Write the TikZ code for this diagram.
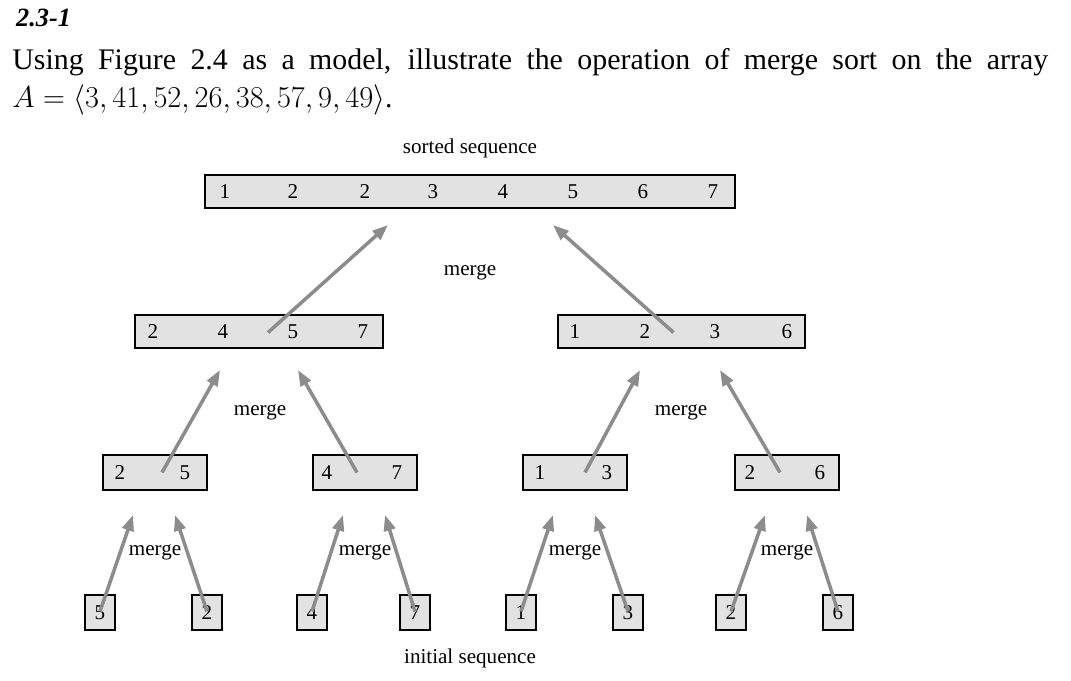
\documentclass[tikz,border=0pt]{standalone}
\usepackage{fontspec}
\setmainfont{Liberation Serif}
\usetikzlibrary{arrows.meta}
\definecolor{boxgray}{RGB}{226,226,226}
\definecolor{arrowgray}{RGB}{140,140,140}

\begin{document}
\begin{tikzpicture}[x=0.02cm,y=-0.02cm]
\tikzset{seq/.style = {draw, fill=boxgray, line width=.6pt, inner sep=0pt}}
\tikzset{num/.style = {font=\fontsize{12}{14}\selectfont}}
\tikzset{lbl/.style = {font=\fontsize{12}{14}\selectfont}}
\tikzset{edge/.style = {-{Triangle[length=9pt,width=8pt,angle'=40]}, draw=arrowgray, line width=2pt}}

   \useasboundingbox (0,0) rectangle (1071,680);

   % header
   \node[anchor=west, font=\fontsize{15}{18}\selectfont\bfseries\itshape] (title) at (10,18) {2.3-1};
   \node[anchor=west, inner sep=0pt, font=\fontsize{17}{20}\selectfont] (line1) at (12,62)
      {\makebox[20.72cm][s]{Using Figure 2.4 as a model, illustrate the operation of merge sort on the array}};
   \node[anchor=west, inner sep=0pt, font=\fontsize{17}{20}\selectfont] (line2) at (12,100)
      {$A=\langle 3,41,52,26,38,57,9,49\rangle$.};

   % boxes
   \node[seq, minimum width=530*0.02cm, minimum height=33*0.02cm] (top) at (470,191.5) {};
   \node[seq, minimum width=248*0.02cm, minimum height=33*0.02cm] (ml) at (259,331.5) {};
   \node[seq, minimum width=247*0.02cm, minimum height=33*0.02cm] (mr) at (681.5,331.5) {};
   \foreach \n/\cx in {a/155,b/365,c/575,d/787}
     \node[seq, minimum width=104*0.02cm, minimum height=35*0.02cm] (p\n) at (\cx,472.5) {};
   \foreach \n/\cx in {1/100,2/207,3/312,4/415,5/521,6/628,7/731,8/838}
     \node[seq, minimum width=30*0.02cm, minimum height=35*0.02cm] (s\n) at (\cx,612.5) {};

   % numbers
   \foreach \v/\cx in {1/225,2/293,2/365,3/433,4/503,5/573,6/643,7/713}
     \node[num] at (\cx,191.5) {\v};
   \foreach \v/\cx in {2/153,4/223,5/293,7/363,1/575,2/645,3/715,6/787}
     \node[num] at (\cx,331.5) {\v};
   \foreach \v/\cx in {2/120,5/185,4/327,7/397,1/540,3/607,2/750,6/820}
     \node[num] at (\cx,472.5) {\v};
   \foreach \v/\i in {5/1,2/2,4/3,7/4,1/5,3/6,2/7,6/8}
     \node[num] at (s\i) {\v};

   % arrow ends
   \coordinate (tl) at (388,225);  \coordinate (tr) at (553,225);
   \coordinate (mll) at (220,370); \coordinate (mlr) at (298,370);
   \coordinate (mrl) at (640,370); \coordinate (mrr) at (720,370);
   \foreach \n/\cx in {a/155,b/365,c/575,d/787}
     {\coordinate (p\n l) at (\cx-22,515); \coordinate (p\n r) at (\cx+20,515);}

   \draw[edge] ([yshift=-17*0.02cm]s1.north) -- (pal);
   \draw[edge] ([yshift=-17*0.02cm]s2.north) -- (par);
   \draw[edge] ([yshift=-17*0.02cm]s3.north) -- (pbl);
   \draw[edge] ([yshift=-17*0.02cm]s4.north) -- (pbr);
   \draw[edge] ([yshift=-17*0.02cm]s5.north) -- (pcl);
   \draw[edge] ([yshift=-17*0.02cm]s6.north) -- (pcr);
   \draw[edge] ([yshift=-17*0.02cm]s7.north) -- (pdl);
   \draw[edge] ([yshift=-17*0.02cm]s8.north) -- (pdr);
   \draw[edge] ([xshift=7*0.02cm,yshift=-18*0.02cm]pa.north) -- (mll);
   \draw[edge] ([xshift=-8*0.02cm,yshift=-18*0.02cm]pb.north) -- (mlr);
   \draw[edge] ([xshift=10*0.02cm,yshift=-18*0.02cm]pc.north) -- (mrl);
   \draw[edge] ([xshift=-7*0.02cm,yshift=-18*0.02cm]pd.north) -- (mrr);
   \draw[edge] ([xshift=9*0.02cm,yshift=-18*0.02cm]ml.north) -- (tl);
   \draw[edge] ([xshift=-8*0.02cm,yshift=-18*0.02cm]mr.north) -- (tr);

   % labels
   \node[lbl] at (470,148) {sorted sequence};
   \node[lbl] at (470,658) {initial sequence};
   \node[lbl] at (470,272) {merge};
   \node[lbl] at (260,412) {merge};
   \node[lbl] at (681,412) {merge};
   \foreach \cx in {155,365,575,787}
     \node[lbl] at (\cx,552) {merge};
\end{tikzpicture}
\end{document}
